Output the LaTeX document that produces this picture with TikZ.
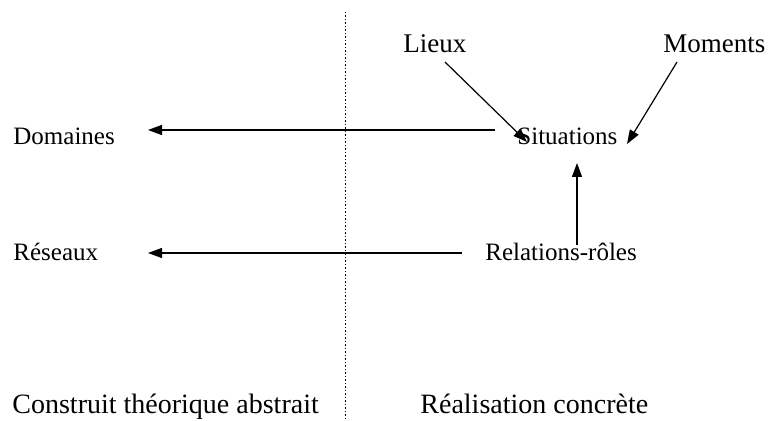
\documentclass[tikz,border=0pt]{standalone}
\usepackage{fontspec}
\setmainfont{Liberation Serif}
\usetikzlibrary{arrows.meta}
\begin{document}
\begin{tikzpicture}[x=0.5pt,y=-0.5pt,
  lbl/.style={anchor=base west,inner sep=0pt,font=\fontsize{12.5}{15}\selectfont},
  toplbl/.style={lbl,font=\fontsize{13.5}{16}\selectfont},
  botlbl/.style={lbl,font=\fontsize{14}{17}\selectfont},
  conn/.style={line width=0.6pt,-{Triangle[length=7pt,width=5pt]}},
  divider/.style={line width=0.5pt,dash pattern=on 0.7pt off 1.05pt}]
\useasboundingbox (0,0) rectangle (769,421);
% divider
\coordinate (dtop) at (345,12);
\coordinate (dbot) at (345,421);
\draw[divider] (dtop) -- (dbot);
% labels
\node[toplbl] (lieux) at (403,53) {Lieux};
\node[toplbl] (moments) at (663,53) {Moments};
\node[lbl] (sit) at (517,145) {Situations};
\node[lbl] (dom) at (13,145) {Domaines};
\node[lbl] (res) at (13,261) {Réseaux};
\node[lbl] (rel) at (485,261) {Relations-rôles};
\node[botlbl] (abs) at (12,413) {Construit théorique abstrait};
\node[botlbl] (conc) at (420,413) {Réalisation concrète};
% connector ends
\coordinate (domS) at (495,130);
\coordinate (domT) at (148,130);
\coordinate (resS) at (462,253);
\coordinate (resT) at (148,253);
\coordinate (lieuxS) at (445,62);
\coordinate (lieuxT) at (527,142);
\coordinate (momS) at (677,62);
\coordinate (momT) at (627,144);
\coordinate (relS) at (577,245);
\coordinate (relT) at (577,163);
% connectors
\draw[conn] (domS) -- (domT);
\draw[conn] (resS) -- (resT);
\draw[conn] (lieuxS) -- (lieuxT);
\draw[conn] (momS) -- (momT);
\draw[conn] (relS) -- (relT);
\end{tikzpicture}
\end{document}
